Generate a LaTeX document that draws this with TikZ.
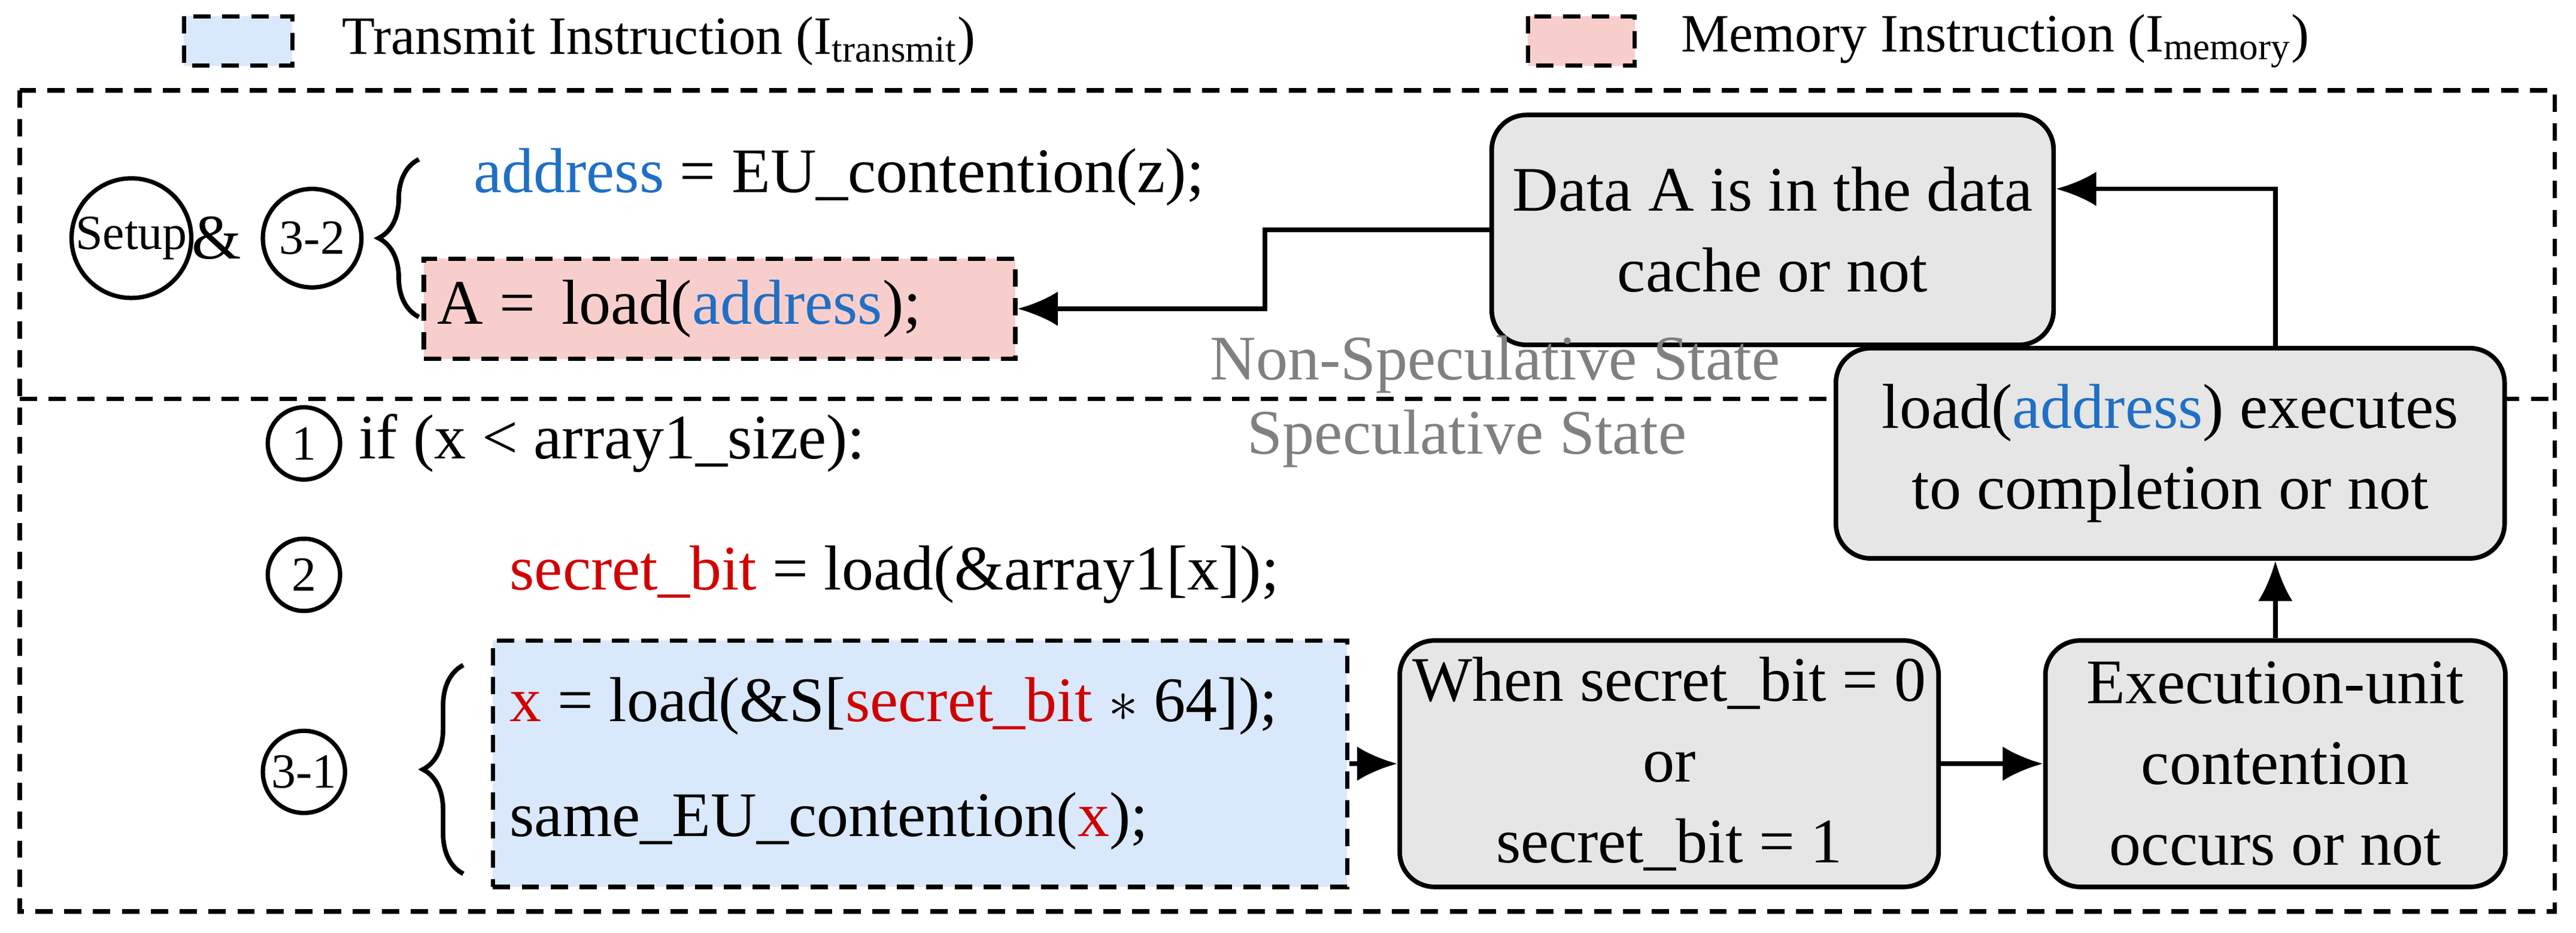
\documentclass[tikz,border=0pt]{standalone}
\usepackage{fontspec}
\setmainfont{Liberation Serif}
\usetikzlibrary{arrows.meta,decorations.pathreplacing}
\definecolor{gbox}{HTML}{E6E6E6}
\definecolor{bbox}{HTML}{DAE8FC}
\definecolor{rbox}{HTML}{F8CECC}
\definecolor{kblue}{HTML}{1F6FC5}
\definecolor{kred}{HTML}{D00000}
\begin{document}
\begin{tikzpicture}[x=0.02cm,y=-0.02cm,
  txt/.style={font=\fontsize{22}{26}\selectfont,inner sep=0pt},
  leg/.style={font=\fontsize{18.7}{22}\selectfont,inner sep=0pt,anchor=west},
  proc/.style={draw,line width=1.6pt,rounded corners=12pt,fill=gbox,align=center,font=\fontsize{22}{28}\selectfont},
  dbox/.style={draw,line width=1.5pt,dash pattern=on 6pt off 4pt},
  circ/.style={draw,circle,line width=1.5pt,inner sep=0pt,font=\fontsize{17}{19}\selectfont},
  arr/.style={line width=1.6pt,-{Latex[length=14pt,width=12pt]}},
  brc/.style={decorate,decoration={brace,amplitude=14pt},line width=1.6pt}]
\useasboundingbox (0,0) rectangle (1568,568);
% legend
\draw[dbox,fill=bbox] (112,10) rectangle (178,40);
\node[leg] (l1) at (208,25) {Transmit Instruction (I\textsubscript{transmit})};
\draw[dbox,fill=rbox] (930,10) rectangle (995,40);
\node[leg] (l2) at (1023,25) {Memory Instruction (I\textsubscript{memory})};
% frames
\draw[dbox] (12,55) rectangle (1555,555);
\draw[dbox] (12,243) -- (1555,243);
% top section
\node[circ,minimum size=72*0.02cm] (setup) at (80,145) {Setup};
\node[txt] (amp) at (132,145) {\&};
\node[circ,minimum size=60*0.02cm] (c32) at (190,145) {3-2};
\draw[brc] (255,193) -- (255,97);
\node[txt,anchor=west] (addr) at (288,108) {\textcolor{kblue}{address} = EU\_contention(z);};
\node[dbox,fill=rbox,minimum width=360*0.02cm,minimum height=61*0.02cm] (rb) at (438,188) {};
\node[txt,anchor=west] (aload) at (266,188) {A =\, load(\textcolor{kblue}{address});};
\node[proc,minimum width=342*0.02cm,minimum height=140*0.02cm] (data) at (1079,140) {Data A is in the data\\cache or not};
\node[font=\fontsize{22}{26}\selectfont,text=gray] (ns) at (910,222) {Non-Speculative State};
\node[font=\fontsize{22}{26}\selectfont,text=gray] (sp) at (893,267) {Speculative State};
\node[proc,minimum width=407*0.02cm,minimum height=128*0.02cm] (exe) at (1321,276) {load(\textcolor{kblue}{address}) executes\\to completion or not};
% bottom section
\node[circ,minimum size=44*0.02cm] (c1) at (185,270) {1};
\node[txt,anchor=west] (if) at (218,270) {if (x < array1\_size):};
\node[circ,minimum size=44*0.02cm] (c2) at (185,350) {2};
\node[txt,anchor=west] (sb) at (310,350) {\textcolor{kred}{secret\_bit} = load(\&array1[x]);};
\node[circ,minimum size=50*0.02cm] (c31) at (185,470) {3-1};
\draw[brc] (282,532) -- (282,405);
\node[dbox,fill=bbox,minimum width=520*0.02cm,minimum height=150*0.02cm] (bb) at (560,465) {};
\node[txt,anchor=west] (xl) at (310,430) {\textcolor{kred}{x} = load(\&S[\textcolor{kred}{secret\_bit} $*$ 64]);};
\node[txt,anchor=west] (sl) at (310,500) {same\_EU\_contention(\textcolor{kred}{x});};
\node[proc,minimum width=328*0.02cm,minimum height=150*0.02cm] (when) at (1016,465) {When secret\_bit = 0\\or\\secret\_bit = 1};
\node[proc,minimum width=280*0.02cm,minimum height=150*0.02cm] (euc) at (1385,465) {Execution-unit\\contention\\occurs or not};
% connectors
\draw[arr] (bb.east) -- (when.west);
\draw[arr] (when.east) -- (euc.west);
\draw[arr] (euc.north) -- (euc.north |- exe.south);
\draw[arr] (euc.north |- exe.north) -- (1385,115) -- (data.east |- 0,115);
\draw[arr] (data.west) -- (770,140) -- (770,188) -- (rb.east);
\end{tikzpicture}
\end{document}
